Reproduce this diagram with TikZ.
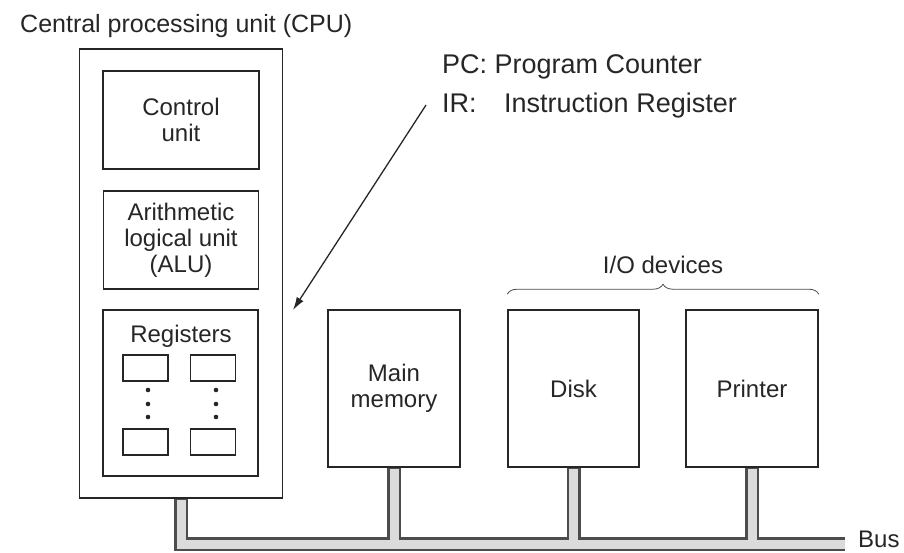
\documentclass[tikz,border=0pt]{standalone}
\usepackage{fontspec}
\setmainfont{Liberation Sans}
\usetikzlibrary{arrows.meta,decorations.pathreplacing}

\begin{document}
\begin{tikzpicture}[x=1pt, y=-1pt, line join=miter,
            unitbox/.style = {draw=black!85, line width=1.6pt, align=center, inner sep=0pt,
                              text=black!85, font=\fontsize{24}{26}\selectfont},
            regbox/.style = {draw=black!85, line width=1.4pt, minimum width=45pt,
                             minimum height=26pt, inner sep=0pt},
            lbl/.style = {inner sep=0pt, anchor=base west, text=black!85,
                          font=\fontsize{24}{26}\selectfont},
            buswire/.style = {draw=black!70, line width=14pt},
            busfill/.style = {draw=black!14, line width=9pt}]
            \useasboundingbox (0,0) rectangle (904,552);

            \node[lbl, font=\fontsize{25}{30}\selectfont] (cpulbl) at (20,32) {Central processing unit (CPU)};

            \node[unitbox, minimum width=203pt, minimum height=449pt] (cpu) at (181,273.5) {};
            \node[unitbox, minimum width=156pt, minimum height=98pt] (ctrl) at (181,120) {Control\\unit};
            \node[unitbox, minimum width=155pt, minimum height=98pt] (alu) at (181,240) {Arithmetic\\logical unit\\(ALU)};
            \node[unitbox, minimum width=155pt, minimum height=166pt] (regs) at (180.5,393) {};
            \node[lbl, anchor=base] (reglbl) at (181,342) {Registers};

            \node[regbox] (r11) at (145.5,368) {};
            \node[regbox] (r12) at (213,368) {};
            \node[regbox] (r21) at (145.5,442) {};
            \node[regbox] (r22) at (213,442) {};
            \foreach \x in {148,216}
                \foreach \y in {390,404,417}
                    \fill[black!85] (\x,\y) circle (2.3pt);

            \node[unitbox, minimum width=132pt, minimum height=157pt] (mem) at (394,388.5) {Main\\memory};
            \node[unitbox, minimum width=131pt, minimum height=157pt] (disk) at (573.5,388.5) {Disk};
            \node[unitbox, minimum width=132pt, minimum height=157pt] (printer) at (752,388.5) {Printer};

            \draw[black!70, line width=0.8pt, decorate, decoration={brace, amplitude=10pt}]
            ([yshift=15pt]disk.north west) -- ([yshift=15pt]printer.north east);
            \node[lbl, anchor=base] (iolbl) at (663,273) {I/O devices};

            \node[lbl, font=\fontsize{27}{32}\selectfont] (pc) at (442,73) {PC: Program Counter};
            \node[lbl, font=\fontsize{27}{32}\selectfont] (ir) at (442,112) {\makebox[62pt][l]{IR:}Instruction Register};

            \coordinate (regtip) at (293,310);
            \draw[black!85, line width=1.3pt, -{Latex[length=13pt, width=8pt]}]
            ([xshift=-16pt]ir.west) -- (regtip);

            \coordinate (busend) at (845,544);
            \draw[buswire] (cpu.south) |- (busend);
            \draw[buswire] (mem.south) -- (mem.south |- busend);
            \draw[buswire] (disk.south) -- (disk.south |- busend);
            \draw[buswire] (printer.south) -- (printer.south |- busend);

            \draw[busfill] ([yshift=-1pt]cpu.south) |- (busend);
            \draw[busfill] ([yshift=-1pt]mem.south) -- (mem.south |- busend);
            \draw[busfill] ([yshift=-1pt]disk.south) -- (disk.south |- busend);
            \draw[busfill] ([yshift=-1pt]printer.south) -- (printer.south |- busend);

            \node[lbl] (buslbl) at (858,547) {Bus};
        \end{tikzpicture}
\end{document}
